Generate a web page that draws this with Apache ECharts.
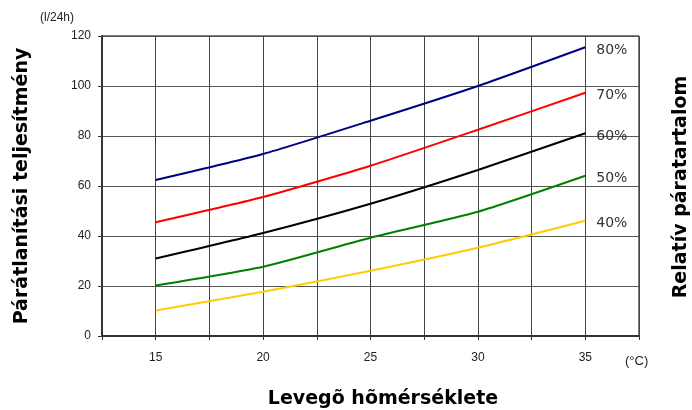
<!DOCTYPE html>
<html>
<head>
<meta charset="utf-8">
<script src="https://cdn.jsdelivr.net/npm/echarts@6/dist/echarts.min.js"></script>
<style>html,body{margin:0;padding:0;background:#fff}#c{width:692px;height:410px}</style>
</head>
<body>
<div id="c"></div>
<script>
const temps = [15, 20, 25, 30, 35];
const seriesNames = ['80%', '70%', '60%', '50%', '40%'];
const rh80 = [62.4, 72.8, 86.1, 100, 115.5];
const rh70 = [45.5, 55.6, 68.1, 82.5, 97.3];
const rh60 = [31, 41.2, 52.9, 66.4, 81.1];
const rh50 = [20.2, 27.7, 39.3, 49.7, 64.1];
const rh40 = [10.2, 17.7, 26.1, 35.3, 46.1];
const colors = ['#000080', '#ff0000', '#000000', '#008000', '#ffcc00'];
const yTitle = 'Párátlanítási teljesítmény';
const rTitle = 'Relatív páratartalom';
const xTitle = 'Levegõ hõmérséklete';
const yUnit = '(l/24h)';
const xUnit = '(°C)';

const allData = [rh80, rh70, rh60, rh50, rh40];
const chart = echarts.init(document.getElementById('c'), null, {renderer: 'canvas'});
chart.setOption({
  animation: false,
  grid: {left: 102, right: 53, top: 36, bottom: 74, show: true, borderColor: '#000', borderWidth: 1, backgroundColor: 'transparent'},
  xAxis: {
    type: 'value', min: 12.5, max: 37.5, interval: 2.5,
    axisLine: {lineStyle: {color: '#333', width: 2}},
    axisTick: {show: true, length: 4, lineStyle: {color: '#333', width: 1}},
    axisLabel: {
      color: '#222', fontSize: 12, fontFamily: 'Liberation Sans, Arial', margin: 16,
      formatter: v => (Math.abs(v % 5) < 1e-6 && v >= 15 && v <= 35) ? String(v) : ''
    },
    splitLine: {show: true, lineStyle: {color: '#444', width: 1}}
  },
  yAxis: {
    type: 'value', min: 0, max: 120, interval: 20,
    axisLine: {show: true, lineStyle: {color: '#333', width: 2}},
    axisTick: {show: true, length: 4, lineStyle: {color: '#333'}},
    axisLabel: {color: '#222', fontSize: 12, fontFamily: 'Liberation Sans, Arial', margin: 11},
    splitLine: {show: true, lineStyle: {color: '#555', width: 1}}
  },
  series: allData.map((d, i) => ({
    name: seriesNames[i],
    type: 'line',
    data: temps.map((t, j) => [t, d[j]]),
    smooth: 0.2,
    symbol: 'none',
    lineStyle: {color: colors[i], width: 2},
    endLabel: {show: true, formatter: '{a}', color: '#333', fontSize: 14, fontFamily: 'DejaVu Sans', offset: [3, 3]}
  })),
  graphic: [
    {type: 'text', left: 40, top: 12, style: {text: yUnit, fill: '#222', font: '12px "Liberation Sans", Arial'}},
    {type: 'text', left: 625, top: 355, style: {text: xUnit, fill: '#222', font: '13px "Liberation Sans", Arial'}},
    {type: 'text', x: 22, y: 186, rotation: Math.PI / 2, style: {text: yTitle, fill: '#000', font: 'bold 19px "DejaVu Sans"', align: 'center', verticalAlign: 'middle'}},
    {type: 'text', x: 681, y: 187, rotation: Math.PI / 2, style: {text: rTitle, fill: '#000', font: 'bold 19px "DejaVu Sans"', align: 'center', verticalAlign: 'middle'}},
    {type: 'text', x: 383, y: 399, style: {text: xTitle, fill: '#000', font: 'bold 19px "DejaVu Sans"', align: 'center', verticalAlign: 'middle'}}
  ]
});
</script>
</body>
</html>
